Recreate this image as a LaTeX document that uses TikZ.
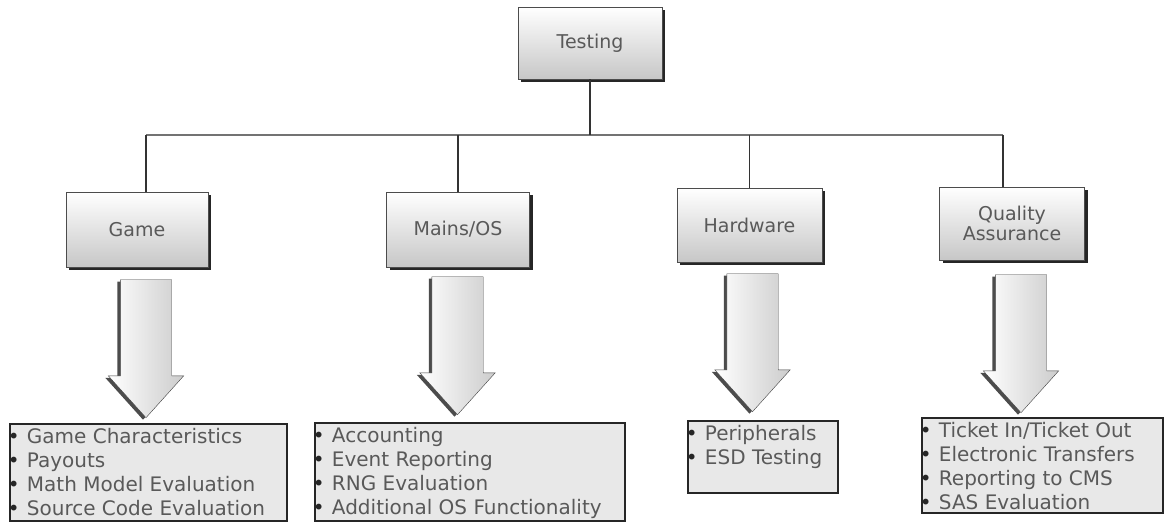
\documentclass[tikz,border=0pt]{standalone}
\usepackage{fontspec}
\setmainfont{DejaVu Sans}
\usetikzlibrary{shapes.arrows,shadows}
\newcommand{\bl}{\makebox[17pt][l]{\textcolor{black!85}{\fontsize{20}{20}\selectfont\kern-2pt•}}}
\begin{document}
\begin{tikzpicture}[x=1pt,y=-1pt]
\tikzstyle{unit} = [rectangle, align=center, minimum width=144pt, minimum height=74pt, draw=black!70, top color=white, bottom color=black!22, drop shadow={shadow xshift=3pt, shadow yshift=-3pt, fill=black!85, opacity=1}, text=black!65, font=\fontsize{19}{20}\selectfont]
\tikzstyle{downarrow} = [single arrow, rotate=-90, anchor=tip, draw=black!75, minimum height=138pt, inner xsep=0pt, inner ysep=25.5pt, single arrow head extend=12pt, single arrow tip angle=84, left color=white, right color=black!20, drop shadow={shadow xshift=-3pt, shadow yshift=-2pt, fill=black!70, opacity=1}]
\tikzstyle{items} = [rectangle, draw=black!85, line width=2.5pt, fill=black!9, inner sep=0pt]
\tikzstyle{itemtext} = [align=left, inner sep=0pt, anchor=north west, text=black!65, font=\fontsize{20}{24}\selectfont]
\tikzstyle{link} = [draw=black!80, line width=1.1pt]
\tikzstyle{bus} = [draw=black!55, line width=1.6pt]
\useasboundingbox (0,0) rectangle (1165,524);
% top and categories
\node[unit, minimum width=144pt, minimum height=72pt] at (590,43) (testing) {Testing};
\node[unit, minimum width=142pt, minimum height=75pt] at (137,229.5) (game) {Game};
\node[unit, minimum width=143pt, minimum height=75pt] at (458,229.5) (mains) {Mains/OS};
\node[unit, minimum width=145pt, minimum height=74pt] at (749.5,225) (hw) {Hardware};
\node[unit, minimum width=145pt, minimum height=73pt] at (1012,223.5) (qa) {Quality\\Assurance};
\coordinate (busL) at (146,135);
\coordinate (busR) at (1003,135);
\draw[bus] (busL) -- (busR);
\draw[link] (testing.south) -- (testing.south |- busL);
\draw[link] (busL) -- (busL |- game.north);
\draw[link] (mains.north |- busL) -- (mains.north);
\draw[link] (hw.north |- busL) -- (hw.north);
\draw[link] (busR) -- (busR |- qa.north);
% block arrows
\node[downarrow] at (146,418) (garrow) {};
\node[downarrow] at (457.5,415) (marrow) {};
\node[downarrow] at (752.5,412) (harrow) {};
\node[downarrow] at (1021,413) (qarrow) {};
% item lists
\node[items, minimum width=277pt, minimum height=97pt] at (148.5,472.5) (glist) {};
\node[items, minimum width=310pt, minimum height=98pt] at (470,472) (mlist) {};
\node[items, minimum width=150pt, minimum height=72pt] at (763,457) (hlist) {};
\node[items, minimum width=241pt, minimum height=95pt] at (1042.5,465.5) (qlist) {};
\node[itemtext] at ([xshift=1pt, yshift=-5pt]glist.north west) (gtext) {\bl Game Characteristics\\ \bl Payouts\\ \bl Math Model Evaluation\\ \bl Source Code Evaluation};
\node[itemtext] at ([xshift=1pt, yshift=-5pt]mlist.north west) (mtext) {\bl Accounting\\ \bl Event Reporting\\ \bl RNG Evaluation\\ \bl Additional OS Functionality};
\node[itemtext] at ([xshift=1pt, yshift=-5pt]hlist.north west) (htext) {\bl Peripherals\\ \bl ESD Testing};
\node[itemtext] at ([xshift=1pt, yshift=-5pt]qlist.north west) (qtext) {\bl Ticket In/Ticket Out\\ \bl Electronic Transfers\\ \bl Reporting to CMS\\ \bl SAS Evaluation};
\end{tikzpicture}
\end{document}
